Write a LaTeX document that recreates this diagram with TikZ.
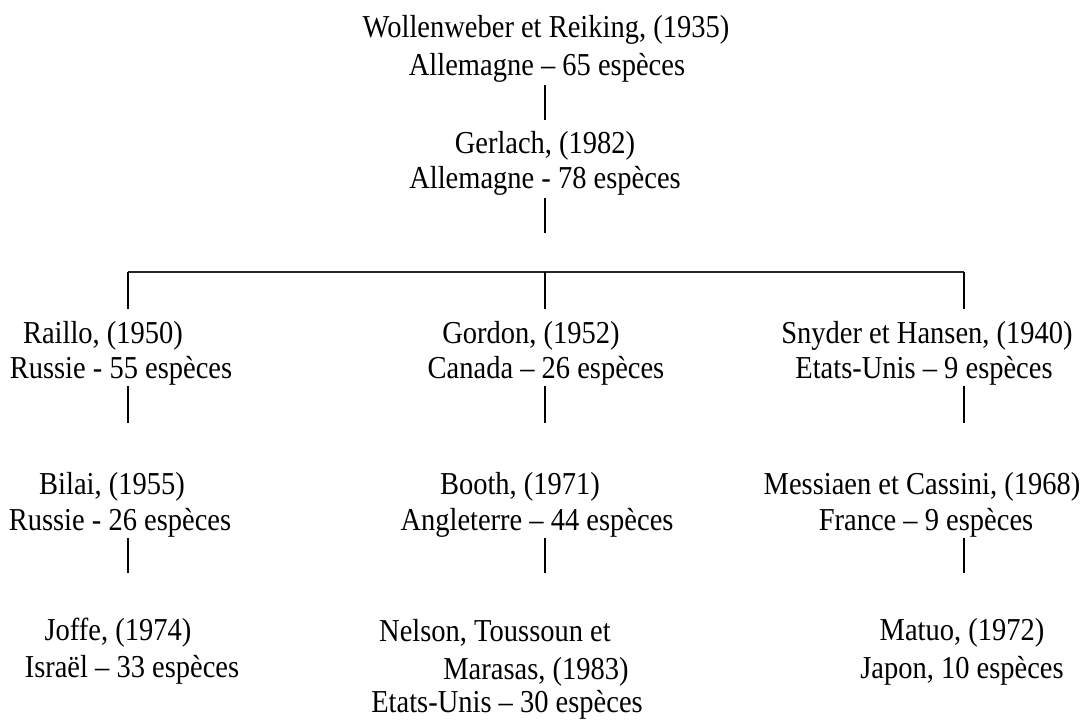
\documentclass[tikz,border=0pt]{standalone}
\usepackage{graphicx}
\usepackage{fontspec}
\setmainfont{Liberation Serif}
\newcommand{\tall}[1]{\scalebox{1}[1.12]{#1}}
\begin{document}
\begin{tikzpicture}[x=1pt,y=-1pt,
  txt/.style={anchor=base,inner sep=0pt,font=\fontsize{28.5}{34}\selectfont},
  vline/.style={line width=1.8pt},
  hline/.style={line width=1.1pt,black!85}]
\useasboundingbox[fill=white] (0,0) rectangle (1087,720);
% top
\node[txt] (w1) at (546,37) {\tall{Wollenweber et Reiking, (1935)}};
\node[txt] (w2) at (547,75) {\tall{Allemagne – 65 espèces}};
\node[txt] (g1) at (545,153) {\tall{Gerlach, (1982)}};
\node[txt] (g2) at (545,188) {\tall{Allemagne - 78 espèces}};
% level 2
\node[txt] (r1) at (103,343) {\tall{Raillo, (1950)}};
\node[txt] (r2) at (121,378) {\tall{Russie - 55 espèces}};
\node[txt] (go1) at (531,343) {\tall{Gordon, (1952)}};
\node[txt] (go2) at (546,378) {\tall{Canada – 26 espèces}};
\node[txt] (s1) at (927,343) {\tall{Snyder et Hansen, (1940)}};
\node[txt] (s2) at (924,378) {\tall{Etats-Unis – 9 espèces}};
% level 3
\node[txt] (b1) at (112,494) {\tall{Bilai, (1955)}};
\node[txt] (b2) at (120,530) {\tall{Russie - 26 espèces}};
\node[txt] (bo1) at (520,494) {\tall{Booth, (1971)}};
\node[txt] (bo2) at (537,530) {\tall{Angleterre – 44 espèces}};
\node[txt] (m1) at (922,494) {\tall{Messiaen et Cassini, (1968)}};
\node[txt] (m2) at (926,530) {\tall{France – 9 espèces}};
% level 4
\node[txt] (j1) at (118,640) {\tall{Joffe, (1974)}};
\node[txt] (j2) at (132,677) {\tall{Israël – 33 espèces}};
\node[txt] (n1) at (495,641) {\tall{Nelson, Toussoun et}};
\node[txt] (n2) at (536,679) {\tall{Marasas, (1983)}};
\node[txt] (n3) at (507,712) {\tall{Etats-Unis – 30 espèces}};
\node[txt] (ma1) at (962,640) {\tall{Matuo, (1972)}};
\node[txt] (ma2) at (962,678) {\tall{Japon, 10 espèces}};
% connector ends
\coordinate (a0) at (545,85);  \coordinate (a1) at (545,120);
\coordinate (b0) at (545,198); \coordinate (b1x) at (545,233);
\coordinate (hl) at (128,272); \coordinate (hm) at (545,272); \coordinate (hr) at (964,272);
\coordinate (dl) at (128,309); \coordinate (dm) at (545,309); \coordinate (dr) at (964,309);
\coordinate (l2a) at (128,386); \coordinate (l2b) at (128,423);
\coordinate (m2a) at (545,386); \coordinate (m2b) at (545,423);
\coordinate (r2a) at (964,386); \coordinate (r2b) at (964,423);
\coordinate (l3a) at (128,538); \coordinate (l3b) at (128,573);
\coordinate (m3a) at (545,538); \coordinate (m3b) at (545,573);
\coordinate (r3a) at (964,538); \coordinate (r3b) at (964,573);
\draw[vline] (a0) -- (a1);
\draw[vline] (b0) -- (b1x);
\draw[hline] (hl) -- (hr);
\draw[vline] (hl) -- (dl);
\draw[vline] (hm) -- (dm);
\draw[vline] (hr) -- (dr);
\draw[vline] (l2a) -- (l2b);
\draw[vline] (m2a) -- (m2b);
\draw[vline] (r2a) -- (r2b);
\draw[vline] (l3a) -- (l3b);
\draw[vline] (m3a) -- (m3b);
\draw[vline] (r3a) -- (r3b);
\end{tikzpicture}
\end{document}
